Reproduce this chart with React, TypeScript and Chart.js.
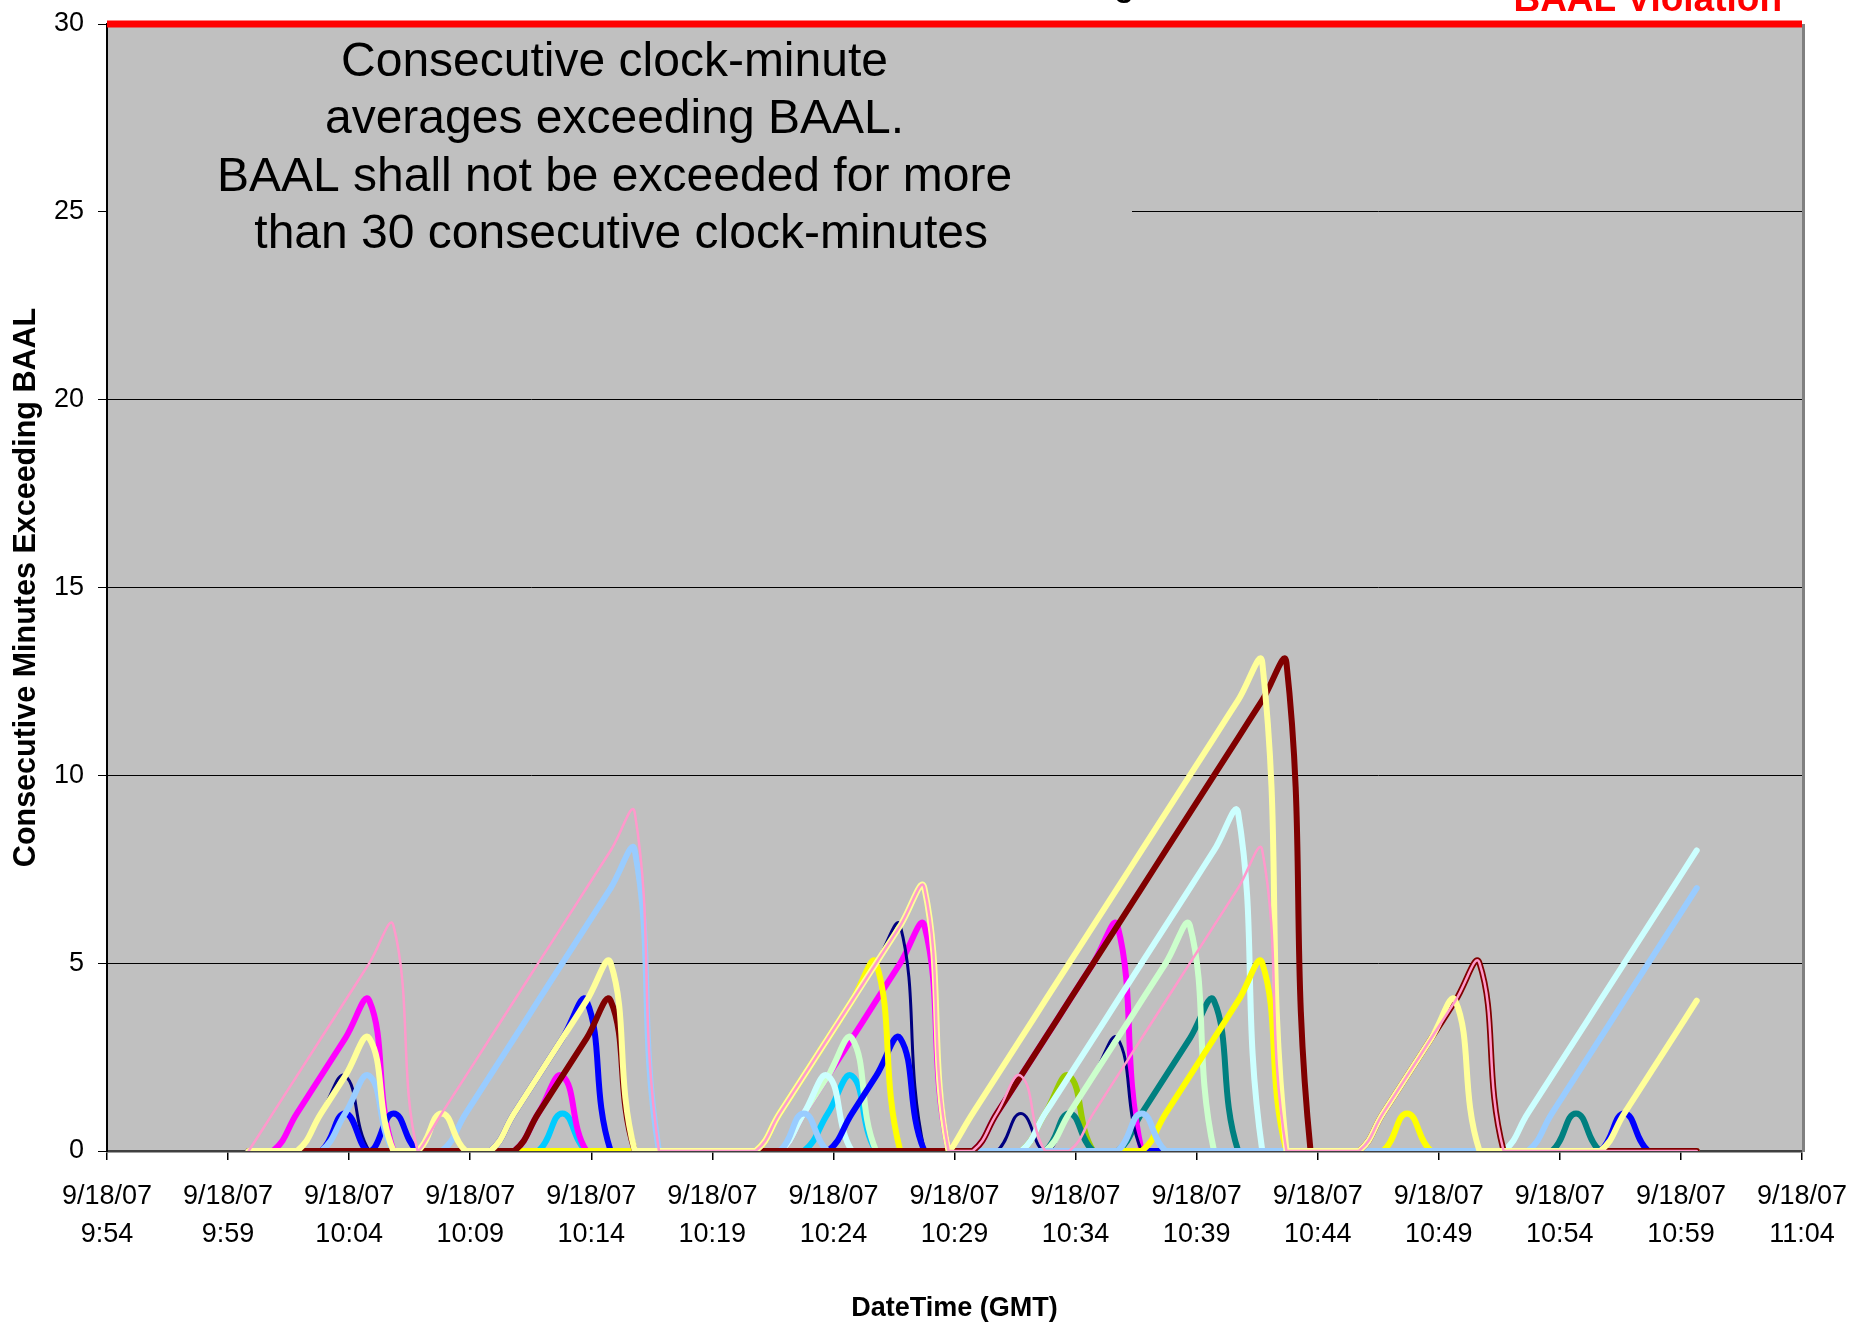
import React, { useEffect, useRef } from "react";
import { Chart, registerables } from "chart.js";

Chart.register(...registerables);

// ---------- data ----------
// one sample per clock-minute; sample times in minutes after 9:54
const sampleStart = 5.85;
const sampleStep = 0.9967;
const xTickDate = "9/18/07";
const xTickTimes = ["9:54", "9:59", "10:04", "10:09", "10:14", "10:19", "10:24", "10:29", "10:34", "10:39", "10:44", "10:49", "10:54", "10:59", "11:04"];
const baalLimit = 30;
const baalSpan = [0, 70];

const pink = [0, 1, 2, 3, 4, 5, 6, 0, 1, 2, 3, 4, 5, 6, 7, 8, 9, 0, 0, 0, 0, 0, 1, 2, 3, 4, 5, 6, 7, 0, 0, 1, 2, 0, 0, 1, 2, 3, 4, 5, 6, 7, 8, 0, 0, 0, 0, 1, 2, 3, 4, 5, 0, 0, 0, 0, 0, 0, 0, 0, 0];
const lightYellow = [0, 0, 0, 1, 2, 3, 0, 0, 1, 0, 0, 1, 2, 3, 4, 5, 0, 0, 0, 0, 0, 0, 1, 2, 3, 4, 5, 6, 7, 0, 1, 2, 3, 4, 5, 6, 7, 8, 9, 10, 11, 12, 13, 0, 0, 0, 0, 1, 2, 3, 4, 0, 0, 0, 0, 0, 0, 1, 2, 3, 4];
const darkRed = [0, 0, 0, 0, 0, 0, 0, 0, 0, 0, 0, 0, 1, 2, 3, 4, 0, 0, 0, 0, 0, 0, 0, 0, 0, 0, 0, 0, 0, 0, 0, 1, 2, 3, 4, 5, 6, 7, 8, 9, 10, 11, 12, 13, 0, 0, 0, 1, 2, 3, 4, 5, 0, 0, 0, 0, 0, 0, 0, 0, 0];
const yellow = [0, 0, 0, 0, 0, 0, 0, 0, 0, 0, 0, 0, 0, 0, 0, 0, 0, 0, 0, 0, 0, 0, 1, 2, 3, 4, 5, 0, 0, 0, 0, 0, 0, 0, 0, 0, 0, 0, 1, 2, 3, 4, 5, 0, 0, 0, 0, 0, 1, 0, 0, 0, 0, 0, 0, 0, 0, 0, 0, 0, 0];
const blue = [0, 0, 0, 0, 1, 0, 1, 0, 0, 0, 0, 1, 2, 3, 4, 0, 0, 0, 0, 0, 0, 0, 0, 0, 0, 1, 2, 3, 0, 0, 0, 0, 0, 0, 0, 0, 0, 0, 0, 0, 0, 0, 0, 0, 0, 0, 0, 0, 0, 0, 0, 0, 0, 0, 0, 0, 0, 1, 0, 0, 0];
const paleBlue = [0, 0, 0, 0, 1, 2, 0, 0, 0, 1, 2, 3, 4, 5, 6, 7, 8, 0, 0, 0, 0, 0, 0, 1, 0, 0, 0, 0, 0, 0, 0, 0, 0, 0, 0, 0, 0, 1, 0, 0, 0, 0, 0, 0, 0, 0, 0, 0, 0, 0, 0, 0, 0, 0, 1, 2, 3, 4, 5, 6, 7];
const lightTurquoise = [0, 0, 0, 0, 0, 0, 0, 0, 0, 0, 0, 0, 0, 0, 0, 0, 0, 0, 0, 0, 0, 0, 0, 1, 2, 0, 0, 0, 0, 0, 0, 0, 0, 1, 2, 3, 4, 5, 6, 7, 8, 9, 0, 0, 0, 0, 0, 0, 0, 0, 0, 0, 0, 1, 2, 3, 4, 5, 6, 7, 8];
const lightGreen = [0, 0, 0, 0, 0, 0, 0, 0, 0, 0, 0, 0, 0, 0, 0, 0, 0, 0, 0, 0, 0, 0, 0, 1, 2, 3, 0, 0, 0, 0, 0, 0, 0, 0, 1, 2, 3, 4, 5, 6, 0, 0, 0, 0, 0, 0, 0, 0, 0, 0, 0, 0, 0, 0, 0, 0, 0, 0, 0, 0, 0];
const navy = [0, 0, 0, 1, 2, 0, 0, 0, 0, 0, 0, 0, 0, 0, 0, 0, 0, 0, 0, 0, 0, 0, 1, 2, 3, 4, 5, 6, 0, 0, 0, 0, 1, 0, 1, 2, 3, 0, 0, 0, 0, 0, 0, 0, 0, 0, 0, 0, 0, 0, 0, 0, 0, 0, 0, 0, 0, 0, 0, 0, 0];
const magenta = [0, 0, 1, 2, 3, 4, 0, 0, 0, 0, 0, 0, 1, 2, 0, 0, 0, 0, 0, 0, 0, 0, 0, 1, 2, 3, 4, 5, 6, 0, 0, 1, 2, 3, 4, 5, 6, 0, 0, 0, 0, 0, 0, 0, 0, 0, 0, 0, 0, 0, 0, 0, 0, 0, 0, 0, 0, 0, 0, 0, 0];
const teal = [0, 0, 0, 0, 0, 0, 0, 0, 0, 0, 0, 0, 0, 0, 0, 0, 0, 0, 0, 0, 0, 0, 0, 0, 0, 0, 0, 0, 0, 0, 0, 0, 0, 0, 1, 0, 0, 1, 2, 3, 4, 0, 0, 0, 0, 0, 0, 0, 0, 0, 0, 0, 0, 0, 0, 1, 0, 0, 0, 0, 0];
const yellowGreen = [0, 0, 0, 0, 0, 0, 0, 0, 0, 0, 0, 0, 0, 0, 0, 0, 0, 0, 0, 0, 0, 0, 0, 0, 0, 0, 0, 0, 0, 0, 0, 0, 0, 1, 2, 0, 0, 0, 0, 0, 0, 0, 0, 0, 0, 0, 0, 0, 0, 0, 0, 0, 0, 0, 0, 0, 0, 0, 0, 0, 0];
const skyBlue = [0, 0, 0, 0, 0, 0, 0, 0, 0, 0, 0, 0, 0, 1, 0, 0, 0, 0, 0, 0, 0, 0, 0, 0, 1, 2, 0, 0, 0, 0, 0, 0, 0, 0, 0, 0, 0, 0, 0, 0, 0, 0, 0, 0, 0, 0, 0, 0, 0, 0, 0, 0, 0, 0, 0, 0, 0, 0, 0, 0, 0];

const noteLines = [
  "Consecutive clock-minute",
  "averages exceeding BAAL.",
  "BAAL shall not be exceeded for more",
  " than 30 consecutive clock-minutes",
];
const chartTitle = "Consecutive Minutes Exceeding BAAL";
const limitLabel = "BAAL Violation";
const xTitle = "DateTime (GMT)";
const yTitle = "Consecutive Minutes Exceeding BAAL";

// first in list is drawn on top
const seriesList = [
  { name: "Site P", values: pink, color: "#FF99CC", width: 2.5 },
  { name: "Site LY", values: lightYellow, color: "#FFFF99", width: 6 },
  { name: "Site DR", values: darkRed, color: "#800000", width: 6 },
  { name: "Site PB", values: paleBlue, color: "#99CCFF", width: 6 },
  { name: "Site Y", values: yellow, color: "#FFFF00", width: 6 },
  { name: "Site B", values: blue, color: "#0000FF", width: 6 },
  { name: "Site LT", values: lightTurquoise, color: "#CCFFFF", width: 6 },
  { name: "Site LG", values: lightGreen, color: "#CCFFCC", width: 6 },
  { name: "Site N", values: navy, color: "#000080", width: 3 },
  { name: "Site M", values: magenta, color: "#FF00FF", width: 6 },
  { name: "Site T", values: teal, color: "#008080", width: 6 },
  { name: "Site YG", values: yellowGreen, color: "#99CC00", width: 6 },
  { name: "Site SB", values: skyBlue, color: "#00CCFF", width: 6 },
];

const FONT = "'Liberation Sans', Arial, Helvetica, sans-serif";

const decorPlugin = {
  id: "decor",
  beforeDraw(chart: any) {
    const { ctx, chartArea: a } = chart;
    ctx.save();
    ctx.fillStyle = "#FFFFFF";
    ctx.fillRect(0, 0, chart.width, chart.height);
    ctx.fillStyle = "#C0C0C0";
    ctx.fillRect(a.left, a.top, a.right - a.left, a.bottom - a.top);
    ctx.restore();
  },
  beforeDatasetsDraw(chart: any) {
    const { ctx, chartArea: a } = chart;
    ctx.save();
    // the note's text box hides the grid behind it
    ctx.fillStyle = "#C0C0C0";
    ctx.fillRect(a.left + 1, a.top + 6, 1024, 240);
    // right frame of the plot
    ctx.strokeStyle = "#808080";
    ctx.lineWidth = 3;
    ctx.beginPath();
    ctx.moveTo(a.right + 1.5, a.top);
    ctx.lineTo(a.right + 1.5, a.bottom + 1);
    ctx.stroke();
    ctx.restore();
  },
  afterDraw(chart: any) {
    const { ctx, chartArea: a } = chart;
    ctx.save();
    ctx.fillStyle = "#000000";
    ctx.font = `48px ${FONT}`;
    ctx.textAlign = "center";
    ctx.textBaseline = "alphabetic";
    noteLines.forEach((line, i) => {
      ctx.fillText(line, a.left + 507.5, a.top + 52 + i * 57.3);
    });
    // chart title (mostly above the picture)
    ctx.font = `bold 32px ${FONT}`;
    ctx.textAlign = "left";
    const prefix = chartTitle.slice(0, chartTitle.indexOf("Exceeding") + "Exceeding".length);
    const w = ctx.measureText(prefix).width;
    ctx.fillText(chartTitle, a.left + 1027 - w, -4);
    // limit label
    ctx.fillStyle = "#FF0000";
    ctx.font = `bold 37px ${FONT}`;
    ctx.textAlign = "right";
    ctx.fillText(limitLabel, a.right - 20, 11);
    ctx.restore();
  },
};

const zeroPadding = (s: any) => {
  s.paddingTop = 0;
  s.paddingBottom = 0;
  s.paddingLeft = 0;
  s.paddingRight = 0;
};

export default function App() {
  const ref = useRef<HTMLCanvasElement>(null);

  useEffect(() => {
    const canvas = ref.current;
    if (!canvas) return;

    const datasets: any[] = [
      {
        label: limitLabel,
        data: baalSpan.map((x) => ({ x, y: baalLimit })),
        borderColor: "#FF0000",
        borderWidth: 7,
        pointRadius: 0,
        tension: 0,
        clip: false,
        borderCapStyle: "butt",
      },
      ...seriesList.map((s) => ({
        label: s.name,
        data: s.values.map((v, i) => ({ x: sampleStart + i * sampleStep, y: v })),
        borderColor: s.color,
        borderWidth: s.width,
        pointRadius: 0,
        tension: 0.45,
        fill: false,
        clip: { left: 0, top: 10, right: 0, bottom: 0 },
        borderCapStyle: "round",
        borderJoinStyle: "round",
      })),
    ];

    const chart = new Chart(canvas, {
      type: "line",
      data: { datasets },
      options: {
        animation: false,
        responsive: false,
        devicePixelRatio: 1,
        layout: { padding: { top: 24, right: 51, bottom: 0, left: 0 } },
        plugins: {
          legend: { display: false },
          tooltip: { enabled: false },
          title: { display: false },
        },
        scales: {
          x: {
            type: "linear",
            position: "bottom",
            min: 0,
            max: 70,
            ticks: {
              stepSize: 5,
              autoSkip: false,
              maxRotation: 0,
              minRotation: 0,
              padding: 18,
              color: "#000000",
              font: { family: FONT, size: 27, lineHeight: 1.4 },
              callback: (v: any) => [xTickDate, xTickTimes[Math.round(Number(v) / 5)]],
            },
            grid: { drawOnChartArea: false, drawTicks: true, tickLength: 9, color: "#000000", lineWidth: 1.5 },
            border: { display: true, color: "#404040", width: 2.5 },
            title: {
              display: true,
              text: xTitle,
              color: "#000000",
              font: { family: FONT, size: 27, weight: "bold" },
              padding: { top: 0, bottom: 0 },
            },
            afterFit: (s: any) => {
              s.height = 174;
              zeroPadding(s);
            },
          },
          y: {
            type: "linear",
            min: 0,
            max: 30,
            ticks: {
              stepSize: 5,
              padding: 14,
              color: "#000000",
              font: { family: FONT, size: 27 },
            },
            grid: { color: "#000000", lineWidth: 1, drawTicks: true, tickLength: 9 },
            border: { display: true, color: "#000000", width: 2 },
            title: {
              display: true,
              text: yTitle,
              color: "#000000",
              font: { family: FONT, size: 30.5, weight: "bold" },
              padding: { top: 8, bottom: 0 },
            },
            afterFit: (s: any) => {
              s.width = 107;
              zeroPadding(s);
            },
          },
        },
      } as any,
      plugins: [decorPlugin],
    });

    return () => chart.destroy();
  }, []);

  return (
    <div style={{ position: "absolute", left: 0, top: 0, width: 1853, height: 1325, background: "#FFFFFF" }}>
      <canvas ref={ref} width={1853} height={1325} style={{ display: "block", width: 1853, height: 1325 }} />
    </div>
  );
}
